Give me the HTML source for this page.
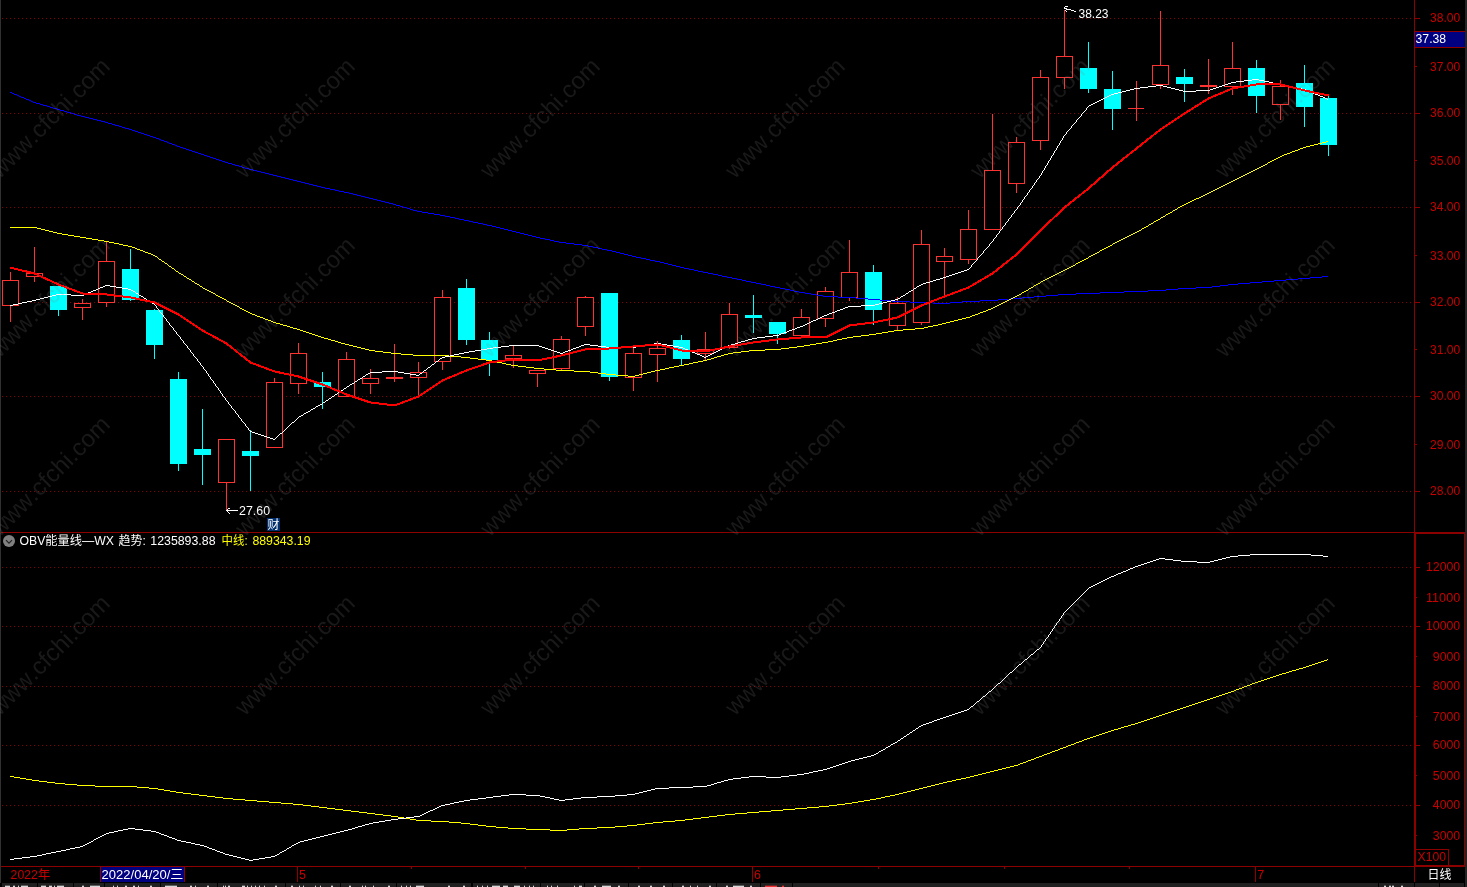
<!DOCTYPE html>
<html lang="zh-CN"><head><meta charset="utf-8"><title>OBV能量线—WX 日线</title>
<style>
html,body{margin:0;padding:0;background:#000;}
body{width:1467px;height:887px;overflow:hidden;position:relative;font-family:"Liberation Sans","Noto Sans CJK SC",sans-serif;}
svg{position:absolute;left:0;top:0;display:block;}
text{font-family:"Liberation Sans","Noto Sans CJK SC",sans-serif;}
.px{shape-rendering:crispEdges;}
</style></head><body>
<svg width="1467" height="887" viewBox="0 0 1467 887">
<rect width="1467" height="887" fill="#000"/>
<g class="px">
<rect x="0" y="0" width="1" height="883" fill="#303030"/>
<rect x="1465" y="0" width="2" height="887" fill="#242424"/>
<path d="M2 18.5H1413" stroke="#880000" stroke-width="1" stroke-dasharray="1 3" fill="none"/>
<path d="M2 113.5H1413" stroke="#880000" stroke-width="1" stroke-dasharray="1 3" fill="none"/>
<path d="M2 207.5H1413" stroke="#880000" stroke-width="1" stroke-dasharray="1 3" fill="none"/>
<path d="M2 302.5H1413" stroke="#880000" stroke-width="1" stroke-dasharray="1 3" fill="none"/>
<path d="M2 396.5H1413" stroke="#880000" stroke-width="1" stroke-dasharray="1 3" fill="none"/>
<path d="M2 491.5H1413" stroke="#880000" stroke-width="1" stroke-dasharray="1 3" fill="none"/>
<path d="M2 567.5H1413" stroke="#880000" stroke-width="1" stroke-dasharray="1 3" fill="none"/>
<path d="M2 626.5H1413" stroke="#880000" stroke-width="1" stroke-dasharray="1 3" fill="none"/>
<path d="M2 686.5H1413" stroke="#880000" stroke-width="1" stroke-dasharray="1 3" fill="none"/>
<path d="M2 745.5H1413" stroke="#880000" stroke-width="1" stroke-dasharray="1 3" fill="none"/>
<path d="M2 805.5H1413" stroke="#880000" stroke-width="1" stroke-dasharray="1 3" fill="none"/>
<rect x="1414" y="0" width="1" height="882" fill="#8c0000"/>
<rect x="1" y="532" width="1464" height="1" fill="#8c0000"/>
<rect x="1" y="866" width="1464" height="1" fill="#8c0000"/>
<path d="M1415.5 533.5H1464.5V865.5H1415.5Z" stroke="#8c0000" stroke-width="1" fill="none"/>
<rect x="1415" y="18" width="5" height="1" fill="#8c0000"/>
<rect x="1415" y="66" width="2" height="1" fill="#8c0000"/>
<rect x="1415" y="113" width="5" height="1" fill="#8c0000"/>
<rect x="1415" y="160" width="2" height="1" fill="#8c0000"/>
<rect x="1415" y="207" width="5" height="1" fill="#8c0000"/>
<rect x="1415" y="255" width="2" height="1" fill="#8c0000"/>
<rect x="1415" y="302" width="5" height="1" fill="#8c0000"/>
<rect x="1415" y="349" width="2" height="1" fill="#8c0000"/>
<rect x="1415" y="396" width="5" height="1" fill="#8c0000"/>
<rect x="1415" y="444" width="2" height="1" fill="#8c0000"/>
<rect x="1415" y="491" width="5" height="1" fill="#8c0000"/>
<rect x="1416" y="567" width="4" height="1" fill="#8c0000"/>
<rect x="1416" y="597" width="1" height="1" fill="#8c0000"/>
<rect x="1416" y="626" width="4" height="1" fill="#8c0000"/>
<rect x="1416" y="656" width="1" height="1" fill="#8c0000"/>
<rect x="1416" y="686" width="4" height="1" fill="#8c0000"/>
<rect x="1416" y="716" width="1" height="1" fill="#8c0000"/>
<rect x="1416" y="745" width="4" height="1" fill="#8c0000"/>
<rect x="1416" y="775" width="1" height="1" fill="#8c0000"/>
<rect x="1416" y="805" width="4" height="1" fill="#8c0000"/>
<rect x="1416" y="835" width="1" height="1" fill="#8c0000"/>
<rect x="1415" y="31" width="50" height="1" fill="#8c0000"/>
<rect x="1415" y="47" width="50" height="1" fill="#8c0000"/>
<rect x="1415" y="32" width="50" height="15" fill="#000080"/>
<path d="M1415.5 849.5H1448.5V865.5" stroke="#8c0000" stroke-width="1" fill="none"/>
<rect x="297" y="867" width="1" height="15" fill="#8c0000"/>
<rect x="752" y="867" width="1" height="15" fill="#8c0000"/>
<rect x="1255" y="867" width="1" height="15" fill="#8c0000"/>
<rect x="411" y="867" width="1" height="2" fill="#8c0000"/>
<rect x="525" y="867" width="1" height="2" fill="#8c0000"/>
<rect x="638" y="867" width="1" height="2" fill="#8c0000"/>
<rect x="878" y="867" width="1" height="2" fill="#8c0000"/>
<rect x="1004" y="867" width="1" height="2" fill="#8c0000"/>
<rect x="1129" y="867" width="1" height="2" fill="#8c0000"/>
<rect x="101" y="867" width="83" height="15" fill="#000080"/>
<rect x="100" y="867" width="1" height="15" fill="#8c0000"/>
<rect x="184" y="867" width="1" height="15" fill="#8c0000"/>
<rect x="2" y="883" width="35" height="4" fill="#202020"/>
<rect x="38" y="883" width="35" height="4" fill="#202020"/>
<rect x="74" y="883" width="30" height="4" fill="#202020"/>
<rect x="105" y="883" width="55" height="4" fill="#202020"/>
<rect x="161" y="883" width="56" height="4" fill="#202020"/>
<rect x="218" y="883" width="67" height="4" fill="#202020"/>
<rect x="286" y="883" width="54" height="4" fill="#202020"/>
<rect x="341" y="883" width="55" height="4" fill="#202020"/>
<rect x="397" y="883" width="74" height="4" fill="#202020"/>
<rect x="473" y="883" width="67" height="4" fill="#202020"/>
<rect x="541" y="883" width="43" height="4" fill="#202020"/>
<rect x="585" y="883" width="43" height="4" fill="#202020"/>
<rect x="629" y="883" width="43" height="4" fill="#202020"/>
<rect x="673" y="883" width="43" height="4" fill="#202020"/>
<rect x="717" y="883" width="43" height="4" fill="#202020"/>
<rect x="761" y="883" width="31" height="4" fill="#202020"/>
<rect x="793" y="883" width="585" height="4" fill="#202020"/>
<rect x="1379" y="883" width="35" height="4" fill="#202020"/>
<rect x="1415" y="883" width="24" height="4" fill="#202020"/>
<rect x="1440" y="883" width="24" height="4" fill="#202020"/>
<path d="M5 886h5v1h-5zM13 886h2v1h-2zM18 886h1v1h-1zM21 886h7v1h-7zM41 886h5v1h-5zM49 886h3v1h-3zM54 886h1v1h-1zM57 886h7v1h-7zM82 886h2v1h-2zM90 886h10v1h-10zM113 886h1v1h-1zM117 886h1v1h-1zM125 886h2v1h-2zM133 886h2v1h-2zM138 886h1v1h-1zM150 886h2v1h-2zM165 886h12v1h-12zM190 886h2v1h-2zM195 886h1v1h-1zM207 886h2v1h-2zM223 886h1v1h-1zM225 886h1v1h-1zM228 886h2v1h-2zM242 886h3v1h-3zM247 886h1v1h-1zM251 886h1v1h-1zM255 886h1v1h-1zM259 886h1v1h-1zM264 886h1v1h-1zM275 886h2v1h-2zM291 886h2v1h-2zM299 886h1v1h-1zM303 886h1v1h-1zM315 886h1v1h-1zM320 886h1v1h-1zM331 886h2v1h-2zM349 886h2v1h-2zM362 886h1v1h-1zM365 886h1v1h-1zM373 886h1v1h-1zM388 886h2v1h-2zM401 886h1v1h-1zM406 886h1v1h-1zM410 886h1v1h-1zM416 886h8v1h-8zM448 886h2v1h-2zM463 886h2v1h-2zM477 886h1v1h-1zM482 886h1v1h-1zM487 886h1v1h-1zM492 886h8v1h-8zM503 886h5v1h-5zM514 886h6v1h-6zM524 886h1v1h-1zM529 886h1v1h-1zM533 886h1v1h-1zM547 886h1v1h-1zM551 886h1v1h-1zM557 886h1v1h-1zM574 886h1v1h-1zM579 886h3v1h-3zM594 886h2v1h-2zM602 886h9v1h-9zM618 886h2v1h-2zM638 886h2v1h-2zM650 886h2v1h-2zM663 886h2v1h-2zM682 886h2v1h-2zM690 886h1v1h-1zM697 886h1v1h-1zM709 886h2v1h-2zM726 886h2v1h-2zM733 886h11v1h-11zM750 886h2v1h-2zM1384 886h2v1h-2zM1389 886h2v1h-2zM1392 886h2v1h-2zM1401 886h2v1h-2z" fill="#d8d8d8"/>
<path d="M5 885h5v1h-5zM13 885h2v1h-2zM18 885h1v1h-1zM21 885h7v1h-7zM41 885h5v1h-5zM49 885h3v1h-3zM54 885h1v1h-1zM57 885h7v1h-7zM82 885h2v1h-2zM90 885h10v1h-10zM113 885h1v1h-1zM117 885h1v1h-1zM125 885h2v1h-2zM133 885h2v1h-2zM138 885h1v1h-1zM150 885h2v1h-2zM165 885h12v1h-12zM190 885h2v1h-2zM195 885h1v1h-1zM207 885h2v1h-2zM223 885h1v1h-1zM225 885h1v1h-1zM228 885h2v1h-2zM242 885h3v1h-3zM247 885h1v1h-1zM251 885h1v1h-1zM255 885h1v1h-1zM259 885h1v1h-1zM264 885h1v1h-1zM275 885h2v1h-2zM291 885h2v1h-2zM299 885h1v1h-1zM303 885h1v1h-1zM315 885h1v1h-1zM320 885h1v1h-1zM331 885h2v1h-2zM349 885h2v1h-2zM362 885h1v1h-1zM365 885h1v1h-1zM373 885h1v1h-1zM388 885h2v1h-2zM401 885h1v1h-1zM406 885h1v1h-1zM410 885h1v1h-1zM416 885h8v1h-8zM448 885h2v1h-2zM463 885h2v1h-2zM477 885h1v1h-1zM482 885h1v1h-1zM487 885h1v1h-1zM492 885h8v1h-8zM503 885h5v1h-5zM514 885h6v1h-6zM524 885h1v1h-1zM529 885h1v1h-1zM533 885h1v1h-1zM547 885h1v1h-1zM551 885h1v1h-1zM557 885h1v1h-1zM574 885h1v1h-1zM579 885h3v1h-3zM594 885h2v1h-2zM602 885h9v1h-9zM618 885h2v1h-2zM638 885h2v1h-2zM650 885h2v1h-2zM663 885h2v1h-2zM682 885h2v1h-2zM690 885h1v1h-1zM697 885h1v1h-1zM709 885h2v1h-2zM726 885h2v1h-2zM733 885h11v1h-11zM750 885h2v1h-2zM1384 885h2v1h-2zM1389 885h2v1h-2zM1392 885h2v1h-2zM1401 885h2v1h-2z" fill="#d8d8d8" fill-opacity="0.35"/>
<path d="M765 886h12v1h-12zM782 886h2v1h-2z" fill="#f03030"/>
<path d="M765 885h12v1h-12zM782 885h2v1h-2z" fill="#f03030" fill-opacity="0.35"/>
</g>
<g class="px">
<rect x="10" y="272" width="1" height="50" fill="#ff3232"/>
<rect x="2" y="280" width="17" height="26" fill="#000"/>
<path d="M2.5 280.5h16v25h-16z" stroke="#ff3232" stroke-width="1" fill="none"/>
<rect x="34" y="247" width="1" height="35" fill="#ff3232"/>
<rect x="26" y="273" width="17" height="4" fill="#000"/>
<path d="M26.5 273.5h16v3h-16z" stroke="#ff3232" stroke-width="1" fill="none"/>
<rect x="58" y="285" width="1" height="31" fill="#00ffff"/>
<rect x="50" y="286" width="17" height="24" fill="#00ffff"/>
<rect x="82" y="299" width="1" height="21" fill="#ff3232"/>
<rect x="74" y="303" width="17" height="5" fill="#000"/>
<path d="M74.5 303.5h16v4h-16z" stroke="#ff3232" stroke-width="1" fill="none"/>
<rect x="106" y="242" width="1" height="65" fill="#ff3232"/>
<rect x="98" y="261" width="17" height="42" fill="#000"/>
<path d="M98.5 261.5h16v41h-16z" stroke="#ff3232" stroke-width="1" fill="none"/>
<rect x="130" y="249" width="1" height="52" fill="#00ffff"/>
<rect x="122" y="269" width="17" height="31" fill="#00ffff"/>
<rect x="154" y="309" width="1" height="50" fill="#00ffff"/>
<rect x="146" y="310" width="17" height="35" fill="#00ffff"/>
<rect x="178" y="372" width="1" height="99" fill="#00ffff"/>
<rect x="170" y="379" width="17" height="85" fill="#00ffff"/>
<rect x="202" y="409" width="1" height="76" fill="#00ffff"/>
<rect x="194" y="449" width="17" height="6" fill="#00ffff"/>
<rect x="226" y="439" width="1" height="71" fill="#ff3232"/>
<rect x="218" y="439" width="17" height="44" fill="#000"/>
<path d="M218.5 439.5h16v43h-16z" stroke="#ff3232" stroke-width="1" fill="none"/>
<rect x="250" y="430" width="1" height="61" fill="#00ffff"/>
<rect x="242" y="451" width="17" height="5" fill="#00ffff"/>
<rect x="274" y="378" width="1" height="70" fill="#ff3232"/>
<rect x="266" y="382" width="17" height="66" fill="#000"/>
<path d="M266.5 382.5h16v65h-16z" stroke="#ff3232" stroke-width="1" fill="none"/>
<rect x="298" y="343" width="1" height="51" fill="#ff3232"/>
<rect x="290" y="353" width="17" height="31" fill="#000"/>
<path d="M290.5 353.5h16v30h-16z" stroke="#ff3232" stroke-width="1" fill="none"/>
<rect x="322" y="372" width="1" height="37" fill="#00ffff"/>
<rect x="314" y="382" width="17" height="5" fill="#00ffff"/>
<rect x="346" y="352" width="1" height="45" fill="#ff3232"/>
<rect x="338" y="359" width="17" height="38" fill="#000"/>
<path d="M338.5 359.5h16v37h-16z" stroke="#ff3232" stroke-width="1" fill="none"/>
<rect x="370" y="369" width="1" height="25" fill="#ff3232"/>
<rect x="362" y="378" width="17" height="6" fill="#000"/>
<path d="M362.5 378.5h16v5h-16z" stroke="#ff3232" stroke-width="1" fill="none"/>
<rect x="394" y="344" width="1" height="38" fill="#ff3232"/>
<rect x="386" y="377" width="17" height="2" fill="#ff3232"/>
<rect x="418" y="362" width="1" height="34" fill="#ff3232"/>
<rect x="410" y="372" width="17" height="6" fill="#000"/>
<path d="M410.5 372.5h16v5h-16z" stroke="#ff3232" stroke-width="1" fill="none"/>
<rect x="442" y="290" width="1" height="80" fill="#ff3232"/>
<rect x="434" y="297" width="17" height="65" fill="#000"/>
<path d="M434.5 297.5h16v64h-16z" stroke="#ff3232" stroke-width="1" fill="none"/>
<rect x="466" y="279" width="1" height="66" fill="#00ffff"/>
<rect x="458" y="288" width="17" height="52" fill="#00ffff"/>
<rect x="489" y="332" width="1" height="44" fill="#00ffff"/>
<rect x="481" y="340" width="17" height="20" fill="#00ffff"/>
<rect x="513" y="346" width="1" height="22" fill="#ff3232"/>
<rect x="505" y="355" width="17" height="4" fill="#000"/>
<path d="M505.5 355.5h16v3h-16z" stroke="#ff3232" stroke-width="1" fill="none"/>
<rect x="537" y="370" width="1" height="17" fill="#ff3232"/>
<rect x="529" y="370" width="17" height="4" fill="#000"/>
<path d="M529.5 370.5h16v3h-16z" stroke="#ff3232" stroke-width="1" fill="none"/>
<rect x="561" y="336" width="1" height="34" fill="#ff3232"/>
<rect x="553" y="339" width="17" height="30" fill="#000"/>
<path d="M553.5 339.5h16v29h-16z" stroke="#ff3232" stroke-width="1" fill="none"/>
<rect x="585" y="296" width="1" height="40" fill="#ff3232"/>
<rect x="577" y="297" width="17" height="30" fill="#000"/>
<path d="M577.5 297.5h16v29h-16z" stroke="#ff3232" stroke-width="1" fill="none"/>
<rect x="609" y="293" width="1" height="88" fill="#00ffff"/>
<rect x="601" y="293" width="17" height="84" fill="#00ffff"/>
<rect x="633" y="347" width="1" height="44" fill="#ff3232"/>
<rect x="625" y="353" width="17" height="25" fill="#000"/>
<path d="M625.5 353.5h16v24h-16z" stroke="#ff3232" stroke-width="1" fill="none"/>
<rect x="657" y="341" width="1" height="41" fill="#ff3232"/>
<rect x="649" y="348" width="17" height="7" fill="#000"/>
<path d="M649.5 348.5h16v6h-16z" stroke="#ff3232" stroke-width="1" fill="none"/>
<rect x="681" y="335" width="1" height="31" fill="#00ffff"/>
<rect x="673" y="340" width="17" height="19" fill="#00ffff"/>
<rect x="705" y="332" width="1" height="28" fill="#ff3232"/>
<rect x="697" y="349" width="17" height="5" fill="#000"/>
<path d="M697.5 349.5h16v4h-16z" stroke="#ff3232" stroke-width="1" fill="none"/>
<rect x="729" y="303" width="1" height="46" fill="#ff3232"/>
<rect x="721" y="314" width="17" height="34" fill="#000"/>
<path d="M721.5 314.5h16v33h-16z" stroke="#ff3232" stroke-width="1" fill="none"/>
<rect x="753" y="295" width="1" height="38" fill="#00ffff"/>
<rect x="745" y="315" width="17" height="3" fill="#00ffff"/>
<rect x="777" y="322" width="1" height="22" fill="#00ffff"/>
<rect x="769" y="322" width="17" height="12" fill="#00ffff"/>
<rect x="801" y="309" width="1" height="28" fill="#ff3232"/>
<rect x="793" y="317" width="17" height="19" fill="#000"/>
<path d="M793.5 317.5h16v18h-16z" stroke="#ff3232" stroke-width="1" fill="none"/>
<rect x="825" y="287" width="1" height="40" fill="#ff3232"/>
<rect x="817" y="291" width="17" height="28" fill="#000"/>
<path d="M817.5 291.5h16v27h-16z" stroke="#ff3232" stroke-width="1" fill="none"/>
<rect x="849" y="240" width="1" height="61" fill="#ff3232"/>
<rect x="841" y="272" width="17" height="26" fill="#000"/>
<path d="M841.5 272.5h16v25h-16z" stroke="#ff3232" stroke-width="1" fill="none"/>
<rect x="873" y="265" width="1" height="60" fill="#00ffff"/>
<rect x="865" y="272" width="17" height="38" fill="#00ffff"/>
<rect x="897" y="297" width="1" height="33" fill="#ff3232"/>
<rect x="889" y="303" width="17" height="23" fill="#000"/>
<path d="M889.5 303.5h16v22h-16z" stroke="#ff3232" stroke-width="1" fill="none"/>
<rect x="921" y="230" width="1" height="95" fill="#ff3232"/>
<rect x="913" y="244" width="17" height="79" fill="#000"/>
<path d="M913.5 244.5h16v78h-16z" stroke="#ff3232" stroke-width="1" fill="none"/>
<rect x="944" y="248" width="1" height="48" fill="#ff3232"/>
<rect x="936" y="256" width="17" height="6" fill="#000"/>
<path d="M936.5 256.5h16v5h-16z" stroke="#ff3232" stroke-width="1" fill="none"/>
<rect x="968" y="210" width="1" height="54" fill="#ff3232"/>
<rect x="960" y="229" width="17" height="31" fill="#000"/>
<path d="M960.5 229.5h16v30h-16z" stroke="#ff3232" stroke-width="1" fill="none"/>
<rect x="992" y="114" width="1" height="116" fill="#ff3232"/>
<rect x="984" y="170" width="17" height="60" fill="#000"/>
<path d="M984.5 170.5h16v59h-16z" stroke="#ff3232" stroke-width="1" fill="none"/>
<rect x="1016" y="137" width="1" height="56" fill="#ff3232"/>
<rect x="1008" y="142" width="17" height="42" fill="#000"/>
<path d="M1008.5 142.5h16v41h-16z" stroke="#ff3232" stroke-width="1" fill="none"/>
<rect x="1040" y="70" width="1" height="80" fill="#ff3232"/>
<rect x="1032" y="77" width="17" height="64" fill="#000"/>
<path d="M1032.5 77.5h16v63h-16z" stroke="#ff3232" stroke-width="1" fill="none"/>
<rect x="1064" y="10" width="1" height="79" fill="#ff3232"/>
<rect x="1056" y="56" width="17" height="22" fill="#000"/>
<path d="M1056.5 56.5h16v21h-16z" stroke="#ff3232" stroke-width="1" fill="none"/>
<rect x="1088" y="42" width="1" height="51" fill="#00ffff"/>
<rect x="1080" y="68" width="17" height="21" fill="#00ffff"/>
<rect x="1112" y="71" width="1" height="59" fill="#00ffff"/>
<rect x="1104" y="89" width="17" height="20" fill="#00ffff"/>
<rect x="1136" y="81" width="1" height="40" fill="#ff3232"/>
<rect x="1128" y="108" width="16" height="1" fill="#ff3232"/>
<rect x="1160" y="11" width="1" height="78" fill="#ff3232"/>
<rect x="1152" y="65" width="17" height="20" fill="#000"/>
<path d="M1152.5 65.5h16v19h-16z" stroke="#ff3232" stroke-width="1" fill="none"/>
<rect x="1184" y="69" width="1" height="33" fill="#00ffff"/>
<rect x="1176" y="77" width="17" height="7" fill="#00ffff"/>
<rect x="1208" y="59" width="1" height="35" fill="#ff3232"/>
<rect x="1200" y="85" width="17" height="2" fill="#ff3232"/>
<rect x="1232" y="42" width="1" height="53" fill="#ff3232"/>
<rect x="1224" y="68" width="17" height="19" fill="#000"/>
<path d="M1224.5 68.5h16v18h-16z" stroke="#ff3232" stroke-width="1" fill="none"/>
<rect x="1256" y="60" width="1" height="53" fill="#00ffff"/>
<rect x="1248" y="68" width="17" height="28" fill="#00ffff"/>
<rect x="1280" y="80" width="1" height="40" fill="#ff3232"/>
<rect x="1272" y="86" width="17" height="19" fill="#000"/>
<path d="M1272.5 86.5h16v18h-16z" stroke="#ff3232" stroke-width="1" fill="none"/>
<rect x="1304" y="65" width="1" height="62" fill="#00ffff"/>
<rect x="1296" y="83" width="17" height="24" fill="#00ffff"/>
<rect x="1328" y="96" width="1" height="60" fill="#00ffff"/>
<rect x="1320" y="98" width="17" height="47" fill="#00ffff"/>
</g>
<path class="px" d="M10 92.5h2M12 93.5h2M14 94.5h3M17 95.5h2M19 96.5h2M21 97.5h3M24 98.5h2M26 99.5h3M29 100.5h2M31 101.5h2M33 102.5h3M36 103.5h4M40 104.5h3M43 105.5h4M47 106.5h3M50 107.5h3M53 108.5h4M57 109.5h3M60 110.5h4M64 111.5h3M67 112.5h4M71 113.5h3M74 114.5h3M77 115.5h4M81 116.5h4M85 117.5h4M89 118.5h4M93 119.5h4M97 120.5h4M101 121.5h4M105 122.5h3M108 123.5h4M112 124.5h3M115 125.5h4M119 126.5h3M122 127.5h3M125 128.5h4M129 129.5h3M132 130.5h3M135 131.5h3M138 132.5h3M141 133.5h3M144 134.5h3M147 135.5h3M150 136.5h3M153 137.5h3M156 138.5h3M159 139.5h2M161 140.5h3M164 141.5h3M167 142.5h2M169 143.5h3M172 144.5h3M175 145.5h2M177 146.5h3M180 147.5h3M183 148.5h3M186 149.5h3M189 150.5h3M192 151.5h3M195 152.5h3M198 153.5h3M201 154.5h3M204 155.5h3M207 156.5h3M210 157.5h3M213 158.5h3M216 159.5h3M219 160.5h3M222 161.5h3M225 162.5h3M228 163.5h4M232 164.5h3M235 165.5h4M239 166.5h3M242 167.5h3M245 168.5h4M249 169.5h4M253 170.5h4M257 171.5h4M261 172.5h4M265 173.5h4M269 174.5h4M273 175.5h4M277 176.5h4M281 177.5h4M285 178.5h4M289 179.5h4M293 180.5h4M297 181.5h4M301 182.5h4M305 183.5h4M309 184.5h4M313 185.5h4M317 186.5h4M321 187.5h4M325 188.5h5M330 189.5h5M335 190.5h4M339 191.5h5M344 192.5h5M349 193.5h4M353 194.5h4M357 195.5h4M361 196.5h4M365 197.5h4M369 198.5h4M373 199.5h4M377 200.5h4M381 201.5h4M385 202.5h4M389 203.5h4M393 204.5h3M396 205.5h4M400 206.5h3M403 207.5h4M407 208.5h3M410 209.5h3M413 210.5h4M417 211.5h5M422 212.5h6M428 213.5h6M434 214.5h6M440 215.5h5M445 216.5h5M450 217.5h5M455 218.5h4M459 219.5h5M464 220.5h5M469 221.5h4M473 222.5h5M478 223.5h5M483 224.5h4M487 225.5h5M492 226.5h4M496 227.5h4M500 228.5h4M504 229.5h4M508 230.5h4M512 231.5h4M516 232.5h4M520 233.5h4M524 234.5h4M528 235.5h4M532 236.5h4M536 237.5h4M540 238.5h5M545 239.5h5M550 240.5h4M554 241.5h5M559 242.5h7M566 243.5h8M574 244.5h8M582 245.5h6M588 246.5h5M593 247.5h5M598 248.5h4M602 249.5h5M607 250.5h5M612 251.5h4M616 252.5h4M620 253.5h4M624 254.5h4M628 255.5h4M632 256.5h4M636 257.5h5M641 258.5h5M646 259.5h4M650 260.5h5M655 261.5h5M660 262.5h4M664 263.5h4M668 264.5h4M672 265.5h4M676 266.5h4M680 267.5h4M684 268.5h5M689 269.5h5M694 270.5h4M698 271.5h5M703 272.5h5M708 273.5h5M713 274.5h5M718 275.5h4M722 276.5h5M727 277.5h5M732 278.5h5M737 279.5h5M742 280.5h4M746 281.5h5M751 282.5h5M756 283.5h5M761 284.5h5M766 285.5h4M770 286.5h5M775 287.5h5M780 288.5h5M785 289.5h5M790 290.5h4M794 291.5h5M799 292.5h6M805 293.5h6M811 294.5h6M817 295.5h6M823 296.5h15M838 297.5h18M856 298.5h12M868 299.5h12M880 300.5h12M892 301.5h18M910 302.5h23M933 303.5h17M950 302.5h12M962 301.5h18M980 300.5h18M998 299.5h12M1010 298.5h12M1022 297.5h12M1034 296.5h12M1046 295.5h12M1058 294.5h18M1076 293.5h24M1100 292.5h24M1124 291.5h24M1148 290.5h18M1166 289.5h12M1178 288.5h18M1196 287.5h16M1212 286.5h8M1220 285.5h8M1228 284.5h10M1238 283.5h12M1250 282.5h12M1262 281.5h12M1274 280.5h12M1286 279.5h12M1298 278.5h12M1310 277.5h12M1322 276.5h6" fill="none" stroke="#0000ff" stroke-width="1"/>
<path class="px" d="M10 227.5h27M37 228.5h4M41 229.5h4M45 230.5h4M49 231.5h4M53 232.5h4M57 233.5h5M62 234.5h6M68 235.5h6M74 236.5h6M80 237.5h6M86 238.5h6M92 239.5h6M98 240.5h6M104 241.5h5M109 242.5h5M114 243.5h5M119 244.5h4M123 245.5h5M128 246.5h4M132 247.5h3M135 248.5h2M137 249.5h3M140 250.5h3M143 251.5h2M145 252.5h3M148 253.5h3M151 254.5h2M153 255.5h2M155 256.5h2M157 257.5h1M158 258.5h1M159 259.5h2M161 260.5h1M162 261.5h2M164 262.5h1M165 263.5h2M167 264.5h1M168 265.5h1M169 266.5h2M171 267.5h1M172 268.5h2M174 269.5h1M175 270.5h1M176 271.5h2M178 272.5h1M179 273.5h2M181 274.5h2M183 275.5h1M184 276.5h2M186 277.5h1M187 278.5h2M189 279.5h2M191 280.5h1M192 281.5h2M194 282.5h1M195 283.5h2M197 284.5h2M199 285.5h1M200 286.5h2M202 287.5h1M203 288.5h2M205 289.5h2M207 290.5h2M209 291.5h2M211 292.5h2M213 293.5h2M215 294.5h1M216 295.5h2M218 296.5h2M220 297.5h2M222 298.5h2M224 299.5h2M226 300.5h1M227 301.5h2M229 302.5h2M231 303.5h2M233 304.5h2M235 305.5h2M237 306.5h2M239 307.5h1M240 308.5h2M242 309.5h2M244 310.5h2M246 311.5h2M248 312.5h2M250 313.5h2M252 314.5h3M255 315.5h2M257 316.5h3M260 317.5h3M263 318.5h2M265 319.5h3M268 320.5h3M271 321.5h2M273 322.5h3M276 323.5h4M280 324.5h3M283 325.5h4M287 326.5h3M290 327.5h3M293 328.5h4M297 329.5h3M300 330.5h3M303 331.5h3M306 332.5h3M309 333.5h3M312 334.5h3M315 335.5h3M318 336.5h3M321 337.5h3M324 338.5h4M328 339.5h3M331 340.5h4M335 341.5h3M338 342.5h3M341 343.5h4M345 344.5h4M349 345.5h4M353 346.5h4M357 347.5h4M361 348.5h4M365 349.5h4M369 350.5h6M375 351.5h8M383 352.5h8M391 353.5h10M401 354.5h12M413 355.5h36M449 356.5h12M461 357.5h9M470 358.5h8M478 359.5h8M486 360.5h6M492 361.5h5M497 362.5h5M502 363.5h4M506 364.5h5M511 365.5h7M518 366.5h8M526 367.5h8M534 368.5h10M544 369.5h12M556 370.5h18M574 371.5h16M590 372.5h8M598 373.5h8M606 374.5h10M616 375.5h12M628 376.5h7M635 375.5h4M639 374.5h4M643 373.5h4M647 372.5h4M651 371.5h4M655 370.5h5M660 369.5h5M665 368.5h4M669 367.5h5M674 366.5h5M679 365.5h5M684 364.5h5M689 363.5h4M693 362.5h5M698 361.5h5M703 360.5h4M707 359.5h4M711 358.5h3M714 357.5h3M717 356.5h4M721 355.5h3M724 354.5h4M728 353.5h5M733 352.5h8M741 351.5h8M749 350.5h16M765 349.5h16M781 348.5h8M789 347.5h8M797 346.5h7M804 345.5h6M810 344.5h6M816 343.5h6M822 342.5h6M828 341.5h5M833 340.5h4M837 339.5h5M842 338.5h5M847 337.5h6M853 336.5h8M861 335.5h8M869 334.5h7M876 333.5h6M882 332.5h6M888 331.5h6M894 330.5h9M903 329.5h12M915 328.5h9M924 327.5h4M928 326.5h5M933 325.5h5M938 324.5h4M942 323.5h4M946 322.5h4M950 321.5h4M954 320.5h4M958 319.5h4M962 318.5h4M966 317.5h4M970 316.5h2M972 315.5h3M975 314.5h3M978 313.5h2M980 312.5h3M983 311.5h3M986 310.5h2M988 309.5h3M991 308.5h2M993 307.5h2M995 306.5h2M997 305.5h2M999 304.5h2M1001 303.5h2M1003 302.5h2M1005 301.5h2M1007 300.5h2M1009 299.5h2M1011 298.5h2M1013 297.5h2M1015 296.5h2M1017 295.5h2M1019 294.5h2M1021 293.5h1M1022 292.5h2M1024 291.5h2M1026 290.5h2M1028 289.5h1M1029 288.5h2M1031 287.5h2M1033 286.5h1M1034 285.5h2M1036 284.5h2M1038 283.5h2M1040 282.5h1M1041 281.5h2M1043 280.5h2M1045 279.5h2M1047 278.5h2M1049 277.5h2M1051 276.5h2M1053 275.5h2M1055 274.5h2M1057 273.5h2M1059 272.5h2M1061 271.5h2M1063 270.5h2M1065 269.5h2M1067 268.5h2M1069 267.5h2M1071 266.5h2M1073 265.5h2M1075 264.5h1M1076 263.5h2M1078 262.5h2M1080 261.5h2M1082 260.5h2M1084 259.5h2M1086 258.5h2M1088 257.5h1M1089 256.5h2M1091 255.5h2M1093 254.5h2M1095 253.5h2M1097 252.5h2M1099 251.5h1M1100 250.5h2M1102 249.5h2M1104 248.5h2M1106 247.5h2M1108 246.5h2M1110 245.5h2M1112 244.5h1M1113 243.5h2M1115 242.5h2M1117 241.5h2M1119 240.5h2M1121 239.5h2M1123 238.5h2M1125 237.5h2M1127 236.5h2M1129 235.5h2M1131 234.5h2M1133 233.5h2M1135 232.5h2M1137 231.5h2M1139 230.5h2M1141 229.5h1M1142 228.5h2M1144 227.5h2M1146 226.5h2M1148 225.5h1M1149 224.5h2M1151 223.5h2M1153 222.5h1M1154 221.5h2M1156 220.5h2M1158 219.5h2M1160 218.5h1M1161 217.5h2M1163 216.5h2M1165 215.5h1M1166 214.5h2M1168 213.5h2M1170 212.5h2M1172 211.5h1M1173 210.5h2M1175 209.5h2M1177 208.5h1M1178 207.5h2M1180 206.5h2M1182 205.5h2M1184 204.5h2M1186 203.5h2M1188 202.5h2M1190 201.5h2M1192 200.5h2M1194 199.5h2M1196 198.5h3M1199 197.5h2M1201 196.5h2M1203 195.5h2M1205 194.5h2M1207 193.5h2M1209 192.5h2M1211 191.5h2M1213 190.5h2M1215 189.5h2M1217 188.5h2M1219 187.5h2M1221 186.5h2M1223 185.5h2M1225 184.5h2M1227 183.5h2M1229 182.5h2M1231 181.5h2M1233 180.5h2M1235 179.5h2M1237 178.5h2M1239 177.5h2M1241 176.5h2M1243 175.5h2M1245 174.5h2M1247 173.5h2M1249 172.5h2M1251 171.5h2M1253 170.5h2M1255 169.5h2M1257 168.5h2M1259 167.5h2M1261 166.5h2M1263 165.5h2M1265 164.5h2M1267 163.5h1M1268 162.5h2M1270 161.5h2M1272 160.5h2M1274 159.5h2M1276 158.5h2M1278 157.5h2M1280 156.5h2M1282 155.5h2M1284 154.5h3M1287 153.5h3M1290 152.5h2M1292 151.5h3M1295 150.5h3M1298 149.5h2M1300 148.5h3M1303 147.5h3M1306 146.5h4M1310 145.5h4M1314 144.5h4M1318 143.5h4M1322 142.5h4M1326 141.5h2" fill="none" stroke="#ffff00" stroke-width="1"/>
<path class="px" d="M10 305.5h3M13 304.5h5M18 303.5h4M22 302.5h5M27 301.5h5M32 300.5h4M36 299.5h4M40 298.5h4M44 297.5h4M48 296.5h4M52 295.5h4M56 294.5h15M71 295.5h13M84 294.5h2M86 293.5h2M88 292.5h3M91 291.5h2M93 290.5h3M96 289.5h2M98 288.5h2M100 287.5h3M103 286.5h2M105 285.5h5M110 286.5h6M116 287.5h6M122 288.5h6M128 289.5h3M131 290.5h2M133 291.5h2M135 292.5h1M136 293.5h2M138 294.5h1M139 295.5h2M141 296.5h2M143 297.5h1M144 298.5h2M146 299.5h1M147 300.5h2M149 301.5h2M151 302.5h1M152 303.5h2M154 304.5h1M155 305.5h1M156.5 306v2M157 308.5h1M158 309.5h1M159.5 310v2M160 312.5h1M161 313.5h1M162 314.5h1M163.5 315v2M164 317.5h1M165 318.5h1M166.5 319v2M167 321.5h1M168 322.5h1M169.5 323v2M170 325.5h1M171 326.5h1M172 327.5h1M173.5 328v2M174 330.5h1M175 331.5h1M176.5 332v2M177 334.5h1M178 335.5h1M179 336.5h1M180.5 337v2M181 339.5h1M182 340.5h1M183.5 341v2M184 343.5h1M185 344.5h1M186 345.5h1M187.5 346v2M188 348.5h1M189 349.5h1M190.5 350v2M191 352.5h1M192 353.5h1M193.5 354v2M194 356.5h1M195 357.5h1M196 358.5h1M197.5 359v2M198 361.5h1M199 362.5h1M200.5 363v2M201 365.5h1M202 366.5h1M203.5 367v2M204 369.5h1M205 370.5h1M206.5 371v2M207 373.5h1M208.5 374v2M209 376.5h1M210.5 377v2M211 379.5h1M212 380.5h1M213.5 381v2M214 383.5h1M215.5 384v2M216 386.5h1M217 387.5h1M218.5 388v2M219 390.5h1M220.5 391v2M221 393.5h1M222.5 394v2M223 396.5h1M224 397.5h1M225.5 398v2M226 400.5h1M227 401.5h1M228.5 402v2M229 404.5h1M230 405.5h1M231.5 406v2M232 408.5h1M233 409.5h1M234 410.5h1M235.5 411v2M236 413.5h1M237 414.5h1M238.5 415v2M239 417.5h1M240 418.5h1M241.5 419v2M242 421.5h1M243 422.5h1M244 423.5h1M245.5 424v2M246 426.5h1M247 427.5h1M248.5 428v2M249 430.5h1M250 431.5h2M252 432.5h3M255 433.5h3M258 434.5h3M261 435.5h3M264 436.5h3M267 437.5h3M270 438.5h3M273 439.5h2M275 438.5h1M276 437.5h1M277 436.5h1M278 435.5h1M279 434.5h1M280 433.5h2M282 432.5h1M283 431.5h1M284 430.5h1M285 429.5h1M286 428.5h1M287 427.5h1M288 426.5h1M289 425.5h1M290 424.5h1M291 423.5h1M292 422.5h2M294 421.5h1M295 420.5h1M296 419.5h1M297 418.5h1M298 417.5h1M299 416.5h2M301 415.5h2M303 414.5h1M304 413.5h2M306 412.5h2M308 411.5h2M310 410.5h1M311 409.5h2M313 408.5h2M315 407.5h1M316 406.5h2M318 405.5h2M320 404.5h2M322 403.5h1M323 402.5h2M325 401.5h1M326 400.5h2M328 399.5h1M329 398.5h2M331 397.5h1M332 396.5h2M334 395.5h1M335 394.5h2M337 393.5h1M338 392.5h2M340 391.5h1M341 390.5h2M343 389.5h1M344 388.5h2M346 387.5h1M347 386.5h2M349 385.5h1M350 384.5h2M352 383.5h2M354 382.5h1M355 381.5h2M357 380.5h1M358 379.5h2M360 378.5h2M362 377.5h1M363 376.5h2M365 375.5h1M366 374.5h2M368 373.5h2M370 372.5h12M382 371.5h16M398 372.5h6M404 373.5h6M410 374.5h6M416 375.5h3M419 374.5h1M420 373.5h2M422 372.5h1M423 371.5h1M424 370.5h2M426 369.5h1M427 368.5h1M428 367.5h2M430 366.5h1M431 365.5h1M432 364.5h2M434 363.5h1M435 362.5h1M436 361.5h2M438 360.5h1M439 359.5h1M440 358.5h2M442 357.5h3M445 356.5h5M450 355.5h4M454 354.5h5M459 353.5h5M464 352.5h5M469 351.5h6M475 350.5h6M481 349.5h6M487 348.5h6M493 347.5h8M501 346.5h8M509 345.5h30M539 346.5h3M542 347.5h3M545 348.5h3M548 349.5h3M551 350.5h3M554 351.5h3M557 352.5h3M560 353.5h3M563 352.5h2M565 351.5h3M568 350.5h3M571 349.5h2M573 348.5h3M576 347.5h3M579 346.5h2M581 345.5h3M584 344.5h6M590 345.5h8M598 346.5h8M606 347.5h30M636 346.5h6M642 345.5h6M648 344.5h6M654 343.5h7M661 344.5h6M667 345.5h6M673 346.5h6M679 347.5h4M683 348.5h2M685 349.5h3M688 350.5h2M690 351.5h2M692 352.5h3M695 353.5h2M697 354.5h3M700 355.5h2M702 356.5h2M704 357.5h2M706 356.5h2M708 355.5h2M710 354.5h2M712 353.5h2M714 352.5h2M716 351.5h2M718 350.5h2M720 349.5h2M722 348.5h2M724 347.5h2M726 346.5h2M728 345.5h3M731 344.5h4M735 343.5h3M738 342.5h3M741 341.5h4M745 340.5h3M748 339.5h4M752 338.5h5M757 337.5h8M765 336.5h8M773 335.5h6M779 334.5h2M781 333.5h3M784 332.5h3M787 331.5h2M789 330.5h3M792 329.5h3M795 328.5h2M797 327.5h3M800 326.5h3M803 325.5h2M805 324.5h2M807 323.5h2M809 322.5h2M811 321.5h2M813 320.5h3M816 319.5h2M818 318.5h2M820 317.5h2M822 316.5h2M824 315.5h3M827 314.5h2M829 313.5h3M832 312.5h3M835 311.5h2M837 310.5h3M840 309.5h3M843 308.5h2M845 307.5h3M848 306.5h13M861 305.5h14M875 304.5h4M879 303.5h4M883 302.5h4M887 301.5h4M891 300.5h4M895 299.5h3M898 298.5h2M900 297.5h1M901 296.5h2M903 295.5h2M905 294.5h1M906 293.5h2M908 292.5h1M909 291.5h2M911 290.5h2M913 289.5h1M914 288.5h2M916 287.5h1M917 286.5h2M919 285.5h2M921 284.5h2M923 283.5h3M926 282.5h4M930 281.5h3M933 280.5h3M936 279.5h4M940 278.5h3M943 277.5h3M946 276.5h3M949 275.5h3M952 274.5h3M955 273.5h3M958 272.5h3M961 271.5h3M964 270.5h3M967 269.5h2M969 268.5h1M970 267.5h1M971.5 265v2M972 264.5h1M973 263.5h1M974 262.5h1M975 261.5h1M976 260.5h1M977.5 258v2M978 257.5h1M979 256.5h1M980 255.5h1M981 254.5h1M982 253.5h1M983.5 251v2M984 250.5h1M985 249.5h1M986 248.5h1M987 247.5h1M988 246.5h1M989.5 244v2M990 243.5h1M991 242.5h1M992 241.5h1M993.5 239v2M994 238.5h1M995 237.5h1M996.5 235v2M997 234.5h1M998 233.5h1M999.5 231v2M1000 230.5h1M1001 229.5h1M1002.5 227v2M1003 226.5h1M1004 225.5h1M1005.5 223v2M1006 222.5h1M1007 221.5h1M1008.5 219v2M1009 218.5h1M1010 217.5h1M1011.5 215v2M1012 214.5h1M1013 213.5h1M1014.5 211v2M1015 210.5h1M1016 209.5h1M1017.5 207v2M1018 206.5h1M1019 205.5h1M1020.5 203v2M1021 202.5h1M1022.5 200v2M1023 199.5h1M1024.5 197v2M1025 196.5h1M1026 195.5h1M1027.5 193v2M1028 192.5h1M1029.5 190v2M1030 189.5h1M1031 188.5h1M1032.5 186v2M1033 185.5h1M1034.5 183v2M1035 182.5h1M1036.5 180v2M1037 179.5h1M1038 178.5h1M1039.5 176v2M1040 175.5h1M1041.5 173v2M1042.5 171v2M1043 170.5h1M1044.5 168v2M1045.5 166v2M1046 165.5h1M1047.5 163v2M1048.5 161v2M1049 160.5h1M1050.5 158v2M1051.5 156v2M1052 155.5h1M1053.5 153v2M1054.5 151v2M1055 150.5h1M1056.5 148v2M1057.5 146v2M1058 145.5h1M1059.5 143v2M1060.5 141v2M1061 140.5h1M1062.5 138v2M1063.5 136v2M1064 135.5h1M1065 134.5h1M1066.5 132v2M1067 131.5h1M1068 130.5h1M1069 129.5h1M1070 128.5h1M1071.5 126v2M1072 125.5h1M1073 124.5h1M1074 123.5h1M1075 122.5h1M1076.5 120v2M1077 119.5h1M1078 118.5h1M1079 117.5h1M1080 116.5h1M1081.5 114v2M1082 113.5h1M1083 112.5h1M1084 111.5h1M1085 110.5h1M1086.5 108v2M1087 107.5h1M1088 106.5h1M1089 105.5h2M1091 104.5h2M1093 103.5h2M1095 102.5h2M1097 101.5h2M1099 100.5h2M1101 99.5h2M1103 98.5h2M1105 97.5h2M1107 96.5h2M1109 95.5h2M1111 94.5h3M1114 93.5h4M1118 92.5h4M1122 91.5h4M1126 90.5h4M1130 89.5h4M1134 88.5h6M1140 87.5h8M1148 86.5h8M1156 85.5h7M1163 86.5h4M1167 87.5h4M1171 88.5h4M1175 89.5h4M1179 90.5h4M1183 91.5h13M1196 90.5h14M1210 89.5h3M1213 88.5h3M1216 87.5h3M1219 86.5h3M1222 85.5h3M1225 84.5h3M1228 83.5h3M1231 82.5h5M1236 81.5h8M1244 80.5h8M1252 79.5h7M1259 80.5h5M1264 81.5h5M1269 82.5h4M1273 83.5h5M1278 84.5h5M1283 85.5h5M1288 86.5h5M1293 87.5h4M1297 88.5h5M1302 89.5h4M1306 90.5h2M1308 91.5h3M1311 92.5h2M1313 93.5h2M1315 94.5h3M1318 95.5h2M1320 96.5h3M1323 97.5h2M1325 98.5h2M1327 99.5h1" fill="none" stroke="#ffffff" stroke-width="1"/>
<polyline class="px" points="10,267.48 34.5,273.48 58.5,284.48 82.5,293.48 106.5,294.48 130.5,297.48 154.5,302.48 178.5,314.48 202.5,330.48 226.5,343.48 250.5,362.48 274.5,371.48 298.5,376.48 322.5,384.48 346.5,394.48 370.5,402.48 394.5,405.48 418.5,396.48 442.5,380.48 466.5,370.48 489.5,362.48 513.5,359.48 537.5,360.48 561.5,355.48 585.5,349.48 609.5,348.48 633.5,346.48 657.5,344.48 681.5,350.48 705.5,351.48 729.5,346.48 753.5,342.48 777.5,339.48 801.5,337.48 825.5,337.48 849.5,325.48 873.5,322.48 897.5,317.48 921.5,305.48 944.5,296.48 968.5,287.48 992.5,273.48 1016.5,254.48 1040.5,230.48 1064.5,207.48 1088.5,188.48 1112.5,167.48 1136.5,148.48 1160.5,129.48 1184.5,113.48 1208.5,98.48 1232.5,88.48 1256.5,84.48 1280.5,84.48 1304.5,90.48 1329,95.48" fill="none" stroke="#ff0000" stroke-width="2" stroke-linejoin="round" stroke-linecap="butt"/>
<path class="px" d="M10 776.5h4M14 777.5h6M20 778.5h6M26 779.5h6M32 780.5h7M39 781.5h8M47 782.5h8M55 783.5h10M65 784.5h12M77 785.5h18M95 786.5h42M137 787.5h12M149 788.5h9M158 789.5h6M164 790.5h6M170 791.5h6M176 792.5h7M183 793.5h8M191 794.5h8M199 795.5h8M207 796.5h8M215 797.5h8M223 798.5h10M233 799.5h12M245 800.5h12M257 801.5h12M269 802.5h12M281 803.5h12M293 804.5h10M303 805.5h8M311 806.5h8M319 807.5h8M327 808.5h8M335 809.5h8M343 810.5h8M351 811.5h8M359 812.5h8M367 813.5h8M375 814.5h8M383 815.5h8M391 816.5h7M398 817.5h6M404 818.5h6M410 819.5h6M416 820.5h15M431 821.5h18M449 822.5h12M461 823.5h9M470 824.5h8M478 825.5h8M486 826.5h10M496 827.5h12M508 828.5h18M526 829.5h24M550 830.5h17M567 829.5h12M579 828.5h18M597 827.5h18M615 826.5h12M627 825.5h10M637 824.5h8M645 823.5h8M653 822.5h10M663 821.5h12M675 820.5h10M685 819.5h8M693 818.5h8M701 817.5h8M709 816.5h8M717 815.5h8M725 814.5h10M735 813.5h12M747 812.5h12M759 811.5h12M771 810.5h12M783 809.5h12M795 808.5h12M807 807.5h12M819 806.5h10M829 805.5h8M837 804.5h8M845 803.5h7M852 802.5h6M858 801.5h6M864 800.5h6M870 799.5h6M876 798.5h5M881 797.5h4M885 796.5h5M890 795.5h5M895 794.5h4M899 793.5h4M903 792.5h4M907 791.5h4M911 790.5h4M915 789.5h4M919 788.5h4M923 787.5h4M927 786.5h4M931 785.5h4M935 784.5h4M939 783.5h4M943 782.5h4M947 781.5h5M952 780.5h4M956 779.5h5M961 778.5h5M966 777.5h4M970 776.5h4M974 775.5h4M978 774.5h4M982 773.5h4M986 772.5h4M990 771.5h4M994 770.5h4M998 769.5h4M1002 768.5h4M1006 767.5h4M1010 766.5h4M1014 765.5h4M1018 764.5h2M1020 763.5h3M1023 762.5h3M1026 761.5h2M1028 760.5h3M1031 759.5h3M1034 758.5h2M1036 757.5h3M1039 756.5h3M1042 755.5h2M1044 754.5h3M1047 753.5h3M1050 752.5h2M1052 751.5h3M1055 750.5h3M1058 749.5h2M1060 748.5h3M1063 747.5h3M1066 746.5h2M1068 745.5h3M1071 744.5h3M1074 743.5h2M1076 742.5h3M1079 741.5h3M1082 740.5h2M1084 739.5h3M1087 738.5h3M1090 737.5h3M1093 736.5h3M1096 735.5h3M1099 734.5h3M1102 733.5h3M1105 732.5h3M1108 731.5h3M1111 730.5h3M1114 729.5h4M1118 728.5h3M1121 727.5h3M1124 726.5h4M1128 725.5h3M1131 724.5h4M1135 723.5h3M1138 722.5h3M1141 721.5h3M1144 720.5h3M1147 719.5h3M1150 718.5h3M1153 717.5h3M1156 716.5h3M1159 715.5h3M1162 714.5h3M1165 713.5h3M1168 712.5h3M1171 711.5h3M1174 710.5h3M1177 709.5h3M1180 708.5h3M1183 707.5h3M1186 706.5h3M1189 705.5h3M1192 704.5h3M1195 703.5h3M1198 702.5h3M1201 701.5h3M1204 700.5h3M1207 699.5h3M1210 698.5h3M1213 697.5h3M1216 696.5h3M1219 695.5h3M1222 694.5h3M1225 693.5h3M1228 692.5h3M1231 691.5h3M1234 690.5h2M1236 689.5h3M1239 688.5h3M1242 687.5h2M1244 686.5h3M1247 685.5h3M1250 684.5h2M1252 683.5h3M1255 682.5h3M1258 681.5h3M1261 680.5h3M1264 679.5h3M1267 678.5h3M1270 677.5h3M1273 676.5h3M1276 675.5h3M1279 674.5h3M1282 673.5h4M1286 672.5h3M1289 671.5h3M1292 670.5h4M1296 669.5h3M1299 668.5h4M1303 667.5h3M1306 666.5h3M1309 665.5h3M1312 664.5h3M1315 663.5h3M1318 662.5h3M1321 661.5h3M1324 660.5h3M1327 659.5h1" fill="none" stroke="#ffff00" stroke-width="1"/>
<path class="px" d="M10 859.5h4M14 858.5h8M22 857.5h8M30 856.5h7M37 855.5h5M42 854.5h4M46 853.5h5M51 852.5h5M56 851.5h5M61 850.5h5M66 849.5h4M70 848.5h5M75 847.5h5M80 846.5h3M83 845.5h2M85 844.5h2M87 843.5h2M89 842.5h2M91 841.5h2M93 840.5h1M94 839.5h2M96 838.5h2M98 837.5h2M100 836.5h2M102 835.5h2M104 834.5h2M106 833.5h3M109 832.5h5M114 831.5h4M118 830.5h5M123 829.5h5M128 828.5h7M135 829.5h8M143 830.5h8M151 831.5h5M156 832.5h3M159 833.5h2M161 834.5h3M164 835.5h3M167 836.5h2M169 837.5h3M172 838.5h3M175 839.5h2M177 840.5h4M181 841.5h5M186 842.5h5M191 843.5h4M195 844.5h5M200 845.5h4M204 846.5h3M207 847.5h2M209 848.5h3M212 849.5h3M215 850.5h2M217 851.5h3M220 852.5h3M223 853.5h2M225 854.5h4M229 855.5h4M233 856.5h4M237 857.5h4M241 858.5h4M245 859.5h4M249 860.5h4M253 859.5h6M259 858.5h6M265 857.5h6M271 856.5h4M275 855.5h2M277 854.5h2M279 853.5h1M280 852.5h2M282 851.5h2M284 850.5h2M286 849.5h1M287 848.5h2M289 847.5h2M291 846.5h1M292 845.5h2M294 844.5h2M296 843.5h2M298 842.5h2M300 841.5h4M304 840.5h4M308 839.5h4M312 838.5h4M316 837.5h4M320 836.5h4M324 835.5h4M328 834.5h4M332 833.5h4M336 832.5h4M340 831.5h4M344 830.5h4M348 829.5h4M352 828.5h3M355 827.5h3M358 826.5h4M362 825.5h3M365 824.5h4M369 823.5h4M373 822.5h6M379 821.5h6M385 820.5h6M391 819.5h7M398 818.5h8M406 817.5h8M414 816.5h6M420 815.5h2M422 814.5h2M424 813.5h2M426 812.5h2M428 811.5h2M430 810.5h3M433 809.5h2M435 808.5h2M437 807.5h2M439 806.5h2M441 805.5h4M445 804.5h5M450 803.5h4M454 802.5h5M459 801.5h5M464 800.5h6M470 799.5h8M478 798.5h8M486 797.5h7M493 796.5h8M501 795.5h8M509 794.5h17M526 795.5h14M540 796.5h5M545 797.5h5M550 798.5h4M554 799.5h5M559 800.5h6M565 799.5h8M573 798.5h8M581 797.5h16M597 796.5h18M615 795.5h12M627 794.5h8M635 793.5h4M639 792.5h4M643 791.5h4M647 790.5h4M651 789.5h4M655 788.5h14M669 787.5h24M693 786.5h14M707 785.5h4M711 784.5h3M714 783.5h3M717 782.5h4M721 781.5h3M724 780.5h4M728 779.5h5M733 778.5h8M741 777.5h8M749 776.5h17M766 777.5h15M781 776.5h8M789 775.5h8M797 774.5h7M804 773.5h5M809 772.5h4M813 771.5h5M818 770.5h5M823 769.5h4M827 768.5h3M830 767.5h3M833 766.5h3M836 765.5h3M839 764.5h3M842 763.5h3M845 762.5h3M848 761.5h3M851 760.5h4M855 759.5h4M859 758.5h4M863 757.5h4M867 756.5h4M871 755.5h3M874 754.5h2M876 753.5h2M878 752.5h1M879 751.5h2M881 750.5h2M883 749.5h2M885 748.5h1M886 747.5h2M888 746.5h2M890 745.5h1M891 744.5h2M893 743.5h2M895 742.5h2M897 741.5h1M898 740.5h2M900 739.5h1M901 738.5h2M903 737.5h1M904 736.5h2M906 735.5h1M907 734.5h2M909 733.5h1M910 732.5h2M912 731.5h1M913 730.5h2M915 729.5h1M916 728.5h2M918 727.5h1M919 726.5h2M921 725.5h2M923 724.5h3M926 723.5h3M929 722.5h3M932 721.5h2M934 720.5h3M937 719.5h3M940 718.5h3M943 717.5h3M946 716.5h3M949 715.5h3M952 714.5h3M955 713.5h3M958 712.5h3M961 711.5h3M964 710.5h3M967 709.5h2M969 708.5h1M970 707.5h1M971 706.5h2M973 705.5h1M974 704.5h1M975 703.5h1M976 702.5h1M977 701.5h2M979 700.5h1M980 699.5h1M981 698.5h1M982 697.5h1M983 696.5h2M985 695.5h1M986 694.5h1M987 693.5h1M988 692.5h1M989 691.5h2M991 690.5h1M992 689.5h1M993 688.5h1M994 687.5h1M995 686.5h1M996 685.5h1M997 684.5h1M998 683.5h2M1000 682.5h1M1001 681.5h1M1002 680.5h1M1003 679.5h1M1004 678.5h1M1005 677.5h1M1006 676.5h1M1007 675.5h1M1008 674.5h1M1009 673.5h1M1010 672.5h2M1012 671.5h1M1013 670.5h1M1014 669.5h1M1015 668.5h1M1016 667.5h1M1017 666.5h1M1018 665.5h1M1019 664.5h2M1021 663.5h1M1022 662.5h1M1023 661.5h1M1024 660.5h1M1025 659.5h2M1027 658.5h1M1028 657.5h1M1029 656.5h1M1030 655.5h1M1031 654.5h2M1033 653.5h1M1034 652.5h1M1035 651.5h1M1036 650.5h1M1037 649.5h2M1039 648.5h1M1040 647.5h1M1041.5 645v2M1042 644.5h1M1043.5 642v2M1044 641.5h1M1045.5 639v2M1046 638.5h1M1047 637.5h1M1048.5 635v2M1049 634.5h1M1050.5 632v2M1051 631.5h1M1052.5 629v2M1053 628.5h1M1054.5 626v2M1055 625.5h1M1056.5 623v2M1057 622.5h1M1058 621.5h1M1059.5 619v2M1060 618.5h1M1061.5 616v2M1062 615.5h1M1063.5 613v2M1064 612.5h1M1065 611.5h1M1066 610.5h1M1067 609.5h1M1068 608.5h1M1069 607.5h1M1070 606.5h1M1071 605.5h1M1072 604.5h1M1073 603.5h1M1074 602.5h1M1075 601.5h1M1076 600.5h1M1077 599.5h1M1078 598.5h1M1079 597.5h1M1080 596.5h1M1081 595.5h1M1082 594.5h1M1083 593.5h1M1084 592.5h1M1085 591.5h1M1086 590.5h1M1087 589.5h1M1088 588.5h1M1089 587.5h2M1091 586.5h2M1093 585.5h2M1095 584.5h2M1097 583.5h2M1099 582.5h2M1101 581.5h2M1103 580.5h2M1105 579.5h2M1107 578.5h2M1109 577.5h2M1111 576.5h3M1114 575.5h2M1116 574.5h2M1118 573.5h3M1121 572.5h2M1123 571.5h3M1126 570.5h2M1128 569.5h2M1130 568.5h3M1133 567.5h2M1135 566.5h3M1138 565.5h3M1141 564.5h3M1144 563.5h3M1147 562.5h3M1150 561.5h3M1153 560.5h3M1156 559.5h3M1159 558.5h6M1165 559.5h8M1173 560.5h8M1181 561.5h16M1197 562.5h13M1210 561.5h4M1214 560.5h4M1218 559.5h4M1222 558.5h4M1226 557.5h4M1230 556.5h8M1238 555.5h12M1250 554.5h61M1311 555.5h12M1323 556.5h5" fill="none" stroke="#ffffff" stroke-width="1"/>
<text x="1460.2" y="22" font-size="12.5" fill="#c80000" text-anchor="end" textLength="30.2" lengthAdjust="spacingAndGlyphs">38.00</text>
<text x="1460.2" y="71" font-size="12.5" fill="#c80000" text-anchor="end" textLength="30.2" lengthAdjust="spacingAndGlyphs">37.00</text>
<text x="1460.2" y="117" font-size="12.5" fill="#c80000" text-anchor="end" textLength="30.2" lengthAdjust="spacingAndGlyphs">36.00</text>
<text x="1460.2" y="165" font-size="12.5" fill="#c80000" text-anchor="end" textLength="30.2" lengthAdjust="spacingAndGlyphs">35.00</text>
<text x="1460.2" y="211" font-size="12.5" fill="#c80000" text-anchor="end" textLength="30.2" lengthAdjust="spacingAndGlyphs">34.00</text>
<text x="1460.2" y="260" font-size="12.5" fill="#c80000" text-anchor="end" textLength="30.2" lengthAdjust="spacingAndGlyphs">33.00</text>
<text x="1460.2" y="306" font-size="12.5" fill="#c80000" text-anchor="end" textLength="30.2" lengthAdjust="spacingAndGlyphs">32.00</text>
<text x="1460.2" y="354" font-size="12.5" fill="#c80000" text-anchor="end" textLength="30.2" lengthAdjust="spacingAndGlyphs">31.00</text>
<text x="1460.2" y="400" font-size="12.5" fill="#c80000" text-anchor="end" textLength="30.2" lengthAdjust="spacingAndGlyphs">30.00</text>
<text x="1460.2" y="449" font-size="12.5" fill="#c80000" text-anchor="end" textLength="30.2" lengthAdjust="spacingAndGlyphs">29.00</text>
<text x="1460.2" y="495" font-size="12.5" fill="#c80000" text-anchor="end" textLength="30.2" lengthAdjust="spacingAndGlyphs">28.00</text>
<text x="1460.2" y="571" font-size="12.5" fill="#c80000" text-anchor="end" textLength="34.2" lengthAdjust="spacingAndGlyphs">12000</text>
<text x="1460.2" y="602" font-size="12.5" fill="#c80000" text-anchor="end" textLength="34.2" lengthAdjust="spacingAndGlyphs">11000</text>
<text x="1460.2" y="630" font-size="12.5" fill="#c80000" text-anchor="end" textLength="34.2" lengthAdjust="spacingAndGlyphs">10000</text>
<text x="1460.2" y="661" font-size="12.5" fill="#c80000" text-anchor="end" textLength="27.4" lengthAdjust="spacingAndGlyphs">9000</text>
<text x="1460.2" y="690" font-size="12.5" fill="#c80000" text-anchor="end" textLength="27.4" lengthAdjust="spacingAndGlyphs">8000</text>
<text x="1460.2" y="721" font-size="12.5" fill="#c80000" text-anchor="end" textLength="27.4" lengthAdjust="spacingAndGlyphs">7000</text>
<text x="1460.2" y="749" font-size="12.5" fill="#c80000" text-anchor="end" textLength="27.4" lengthAdjust="spacingAndGlyphs">6000</text>
<text x="1460.2" y="780" font-size="12.5" fill="#c80000" text-anchor="end" textLength="27.4" lengthAdjust="spacingAndGlyphs">5000</text>
<text x="1460.2" y="809" font-size="12.5" fill="#c80000" text-anchor="end" textLength="27.4" lengthAdjust="spacingAndGlyphs">4000</text>
<text x="1460.2" y="840" font-size="12.5" fill="#c80000" text-anchor="end" textLength="27.4" lengthAdjust="spacingAndGlyphs">3000</text>
<text x="1415.6" y="43" font-size="12.5" fill="#ffffff" text-anchor="start" textLength="30.5" lengthAdjust="spacingAndGlyphs">37.38</text>
<text x="1417.5" y="861" font-size="12.5" fill="#c80000" text-anchor="start" textLength="28.5" lengthAdjust="spacingAndGlyphs">X100</text>
<text x="1427.5" y="879" font-size="12" fill="#ffffff" text-anchor="start" textLength="24" lengthAdjust="spacingAndGlyphs">日线</text>
<text x="10.6" y="879" font-size="12.5" fill="#c80000" text-anchor="start" textLength="39.6" lengthAdjust="spacingAndGlyphs">2022年</text>
<text x="101.6" y="879" font-size="12.5" fill="#ffffff" text-anchor="start" textLength="81.8" lengthAdjust="spacingAndGlyphs">2022/04/20/三</text>
<text x="299" y="879" font-size="12.5" fill="#c80000" text-anchor="start">5</text>
<text x="754" y="879" font-size="12.5" fill="#c80000" text-anchor="start">6</text>
<text x="1257.2" y="879" font-size="12.5" fill="#c80000" text-anchor="start">7</text>
<path class="px" d="M1065 6h3v1h-3zM1064 7h1v1h-1zM1064 8h3v1h-3zM1066 9h5v1h-5zM1065 10h1v1h-1zM1071 10h3v1h-3zM1066 11h1v1h-1zM1074 11h2v1h-2z" fill="#fff"/>
<text x="1078.5" y="18" font-size="12.5" fill="#ffffff" text-anchor="start" textLength="30" lengthAdjust="spacingAndGlyphs">38.23</text>
<path class="px" d="M226 510h12v1h-12zM227 509h1v1h-1zM228 508h2v1h-2zM227 511h1v1h-1zM228 512h1v1h-1zM229 513h1v1h-1z" fill="#fff"/>
<text x="239.1" y="515" font-size="12.5" fill="#ffffff" text-anchor="start" textLength="31" lengthAdjust="spacingAndGlyphs">27.60</text>
<rect class="px" x="267" y="518" width="13" height="13" fill="#003070"/>
<text x="267.5" y="529" font-size="12" fill="#ffffff" text-anchor="start">财</text>
<circle cx="9" cy="541" r="6" fill="#808080"/>
<path d="M6 540.1L9 543.1L12 540.1" stroke="#202020" stroke-width="1.1" fill="none"/>
<text y="545" font-size="12" fill="#ffffff" xml:space="preserve"><tspan x="19.5" textLength="94.5" lengthAdjust="spacingAndGlyphs">OBV能量线—WX</tspan> <tspan x="118.6" textLength="27.2" lengthAdjust="spacingAndGlyphs">趋势:</tspan> <tspan x="150.3" textLength="65.2" lengthAdjust="spacingAndGlyphs">1235893.88</tspan> <tspan x="221.6" textLength="26" lengthAdjust="spacingAndGlyphs" fill="#ffff00">中线:</tspan> <tspan x="252.4" textLength="58.1" lengthAdjust="spacingAndGlyphs" fill="#ffff00">889343.19</tspan></text>
<g fill="#808080" fill-opacity="0.195" font-size="24">
<text transform="translate(-1.7 181) rotate(-45)"><tspan x="2" textLength="50" lengthAdjust="spacingAndGlyphs">www</tspan><tspan x="52">.cfchi.com</tspan></text>
<text transform="translate(243.3 181) rotate(-45)"><tspan x="2" textLength="50" lengthAdjust="spacingAndGlyphs">www</tspan><tspan x="52">.cfchi.com</tspan></text>
<text transform="translate(488.3 181) rotate(-45)"><tspan x="2" textLength="50" lengthAdjust="spacingAndGlyphs">www</tspan><tspan x="52">.cfchi.com</tspan></text>
<text transform="translate(733.3 181) rotate(-45)"><tspan x="2" textLength="50" lengthAdjust="spacingAndGlyphs">www</tspan><tspan x="52">.cfchi.com</tspan></text>
<text transform="translate(978.3 181) rotate(-45)"><tspan x="2" textLength="50" lengthAdjust="spacingAndGlyphs">www</tspan><tspan x="52">.cfchi.com</tspan></text>
<text transform="translate(1223.3 181) rotate(-45)"><tspan x="2" textLength="50" lengthAdjust="spacingAndGlyphs">www</tspan><tspan x="52">.cfchi.com</tspan></text>
<text transform="translate(-1.7 360) rotate(-45)"><tspan x="2" textLength="50" lengthAdjust="spacingAndGlyphs">www</tspan><tspan x="52">.cfchi.com</tspan></text>
<text transform="translate(243.3 360) rotate(-45)"><tspan x="2" textLength="50" lengthAdjust="spacingAndGlyphs">www</tspan><tspan x="52">.cfchi.com</tspan></text>
<text transform="translate(488.3 360) rotate(-45)"><tspan x="2" textLength="50" lengthAdjust="spacingAndGlyphs">www</tspan><tspan x="52">.cfchi.com</tspan></text>
<text transform="translate(733.3 360) rotate(-45)"><tspan x="2" textLength="50" lengthAdjust="spacingAndGlyphs">www</tspan><tspan x="52">.cfchi.com</tspan></text>
<text transform="translate(978.3 360) rotate(-45)"><tspan x="2" textLength="50" lengthAdjust="spacingAndGlyphs">www</tspan><tspan x="52">.cfchi.com</tspan></text>
<text transform="translate(1223.3 360) rotate(-45)"><tspan x="2" textLength="50" lengthAdjust="spacingAndGlyphs">www</tspan><tspan x="52">.cfchi.com</tspan></text>
<text transform="translate(-1.7 539) rotate(-45)"><tspan x="2" textLength="50" lengthAdjust="spacingAndGlyphs">www</tspan><tspan x="52">.cfchi.com</tspan></text>
<text transform="translate(243.3 539) rotate(-45)"><tspan x="2" textLength="50" lengthAdjust="spacingAndGlyphs">www</tspan><tspan x="52">.cfchi.com</tspan></text>
<text transform="translate(488.3 539) rotate(-45)"><tspan x="2" textLength="50" lengthAdjust="spacingAndGlyphs">www</tspan><tspan x="52">.cfchi.com</tspan></text>
<text transform="translate(733.3 539) rotate(-45)"><tspan x="2" textLength="50" lengthAdjust="spacingAndGlyphs">www</tspan><tspan x="52">.cfchi.com</tspan></text>
<text transform="translate(978.3 539) rotate(-45)"><tspan x="2" textLength="50" lengthAdjust="spacingAndGlyphs">www</tspan><tspan x="52">.cfchi.com</tspan></text>
<text transform="translate(1223.3 539) rotate(-45)"><tspan x="2" textLength="50" lengthAdjust="spacingAndGlyphs">www</tspan><tspan x="52">.cfchi.com</tspan></text>
<text transform="translate(-1.7 718) rotate(-45)"><tspan x="2" textLength="50" lengthAdjust="spacingAndGlyphs">www</tspan><tspan x="52">.cfchi.com</tspan></text>
<text transform="translate(243.3 718) rotate(-45)"><tspan x="2" textLength="50" lengthAdjust="spacingAndGlyphs">www</tspan><tspan x="52">.cfchi.com</tspan></text>
<text transform="translate(488.3 718) rotate(-45)"><tspan x="2" textLength="50" lengthAdjust="spacingAndGlyphs">www</tspan><tspan x="52">.cfchi.com</tspan></text>
<text transform="translate(733.3 718) rotate(-45)"><tspan x="2" textLength="50" lengthAdjust="spacingAndGlyphs">www</tspan><tspan x="52">.cfchi.com</tspan></text>
<text transform="translate(978.3 718) rotate(-45)"><tspan x="2" textLength="50" lengthAdjust="spacingAndGlyphs">www</tspan><tspan x="52">.cfchi.com</tspan></text>
<text transform="translate(1223.3 718) rotate(-45)"><tspan x="2" textLength="50" lengthAdjust="spacingAndGlyphs">www</tspan><tspan x="52">.cfchi.com</tspan></text>
</g>
</svg>
</body></html>
